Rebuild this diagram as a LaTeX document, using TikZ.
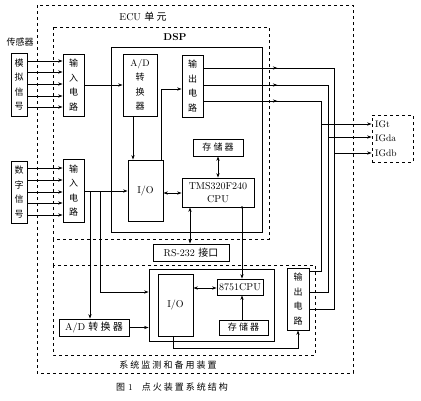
\documentclass[tikz,border=0pt]{standalone}
\usepackage{fontspec}
\newfontfamily\cjk{Noto Sans CJK SC}
\usetikzlibrary{arrows.meta,decorations.markings}
\begin{document}
\begin{tikzpicture}[x=1pt,y=-1pt,
  box/.style={draw, line width=0.8pt, inner sep=0pt, align=center},
  vtxt/.style={font=\cjk\fontsize{9}{14.5}\selectfont},
  ctxt/.style={font=\cjk\fontsize{9}{11}\selectfont},
  ln/.style={line width=0.7pt},
  arr/.style={ln, -{Stealth[length=4.5pt,width=3.2pt]}},
  darr/.style={ln, {Stealth[length=4.5pt,width=3.2pt]}-{Stealth[length=4.5pt,width=3.2pt]}},
  dbox/.style={line width=0.8pt, dash pattern=on 3pt off 3pt},
  midarr/.style={postaction={decorate}, decoration={markings, mark=at position #1 with {\arrow{Stealth[length=4.5pt,width=3.2pt]}}}}
]
\useasboundingbox (0,0) rectangle (421,400);
\fill[white] (0,0) rectangle (421,400);

% dashed containers
\draw[dbox] (37,5) rectangle (353,373);
\draw[dbox] (53,27) rectangle (269,239);
\draw[dbox] (53,265) rectangle (315,355);
\draw[dbox] (53,239) -- (53,265);
\node[font=\fontsize{10}{12}\selectfont] (ecu) at (143,17) {ECU \cjk 单 元};
\node[font=\bfseries\fontsize{10}{12}\selectfont] (dsp) at (175,37) {DSP};
\node[ctxt] (sens) at (20,42) {传感器};
\node[ctxt] (sys) at (168,365) {系 统 监 测 和 备 用 装 置};
\node[font=\fontsize{9}{11}\selectfont] (cap) at (172,387) {{\cjk 图} 1\quad{\cjk 点 火 装 置 系 统 结 构}};

% left column
\node[box, vtxt, minimum width=16pt, minimum height=63pt] (analog) at (19,84.5) {模\\拟\\信\\号};
\node[box, vtxt, minimum width=16pt, minimum height=62pt] (digital) at (19,192) {数\\字\\信\\号};
\node[box, vtxt, minimum width=21pt, minimum height=62pt] (in1) at (73.5,85) {输\\入\\电\\路};
\node[box, vtxt, minimum width=21pt, minimum height=63pt] (in2) at (73.5,190.5) {输\\入\\电\\路};

% DSP
\node[box, minimum width=151pt, minimum height=185pt] (dspbox) at (186.5,139.5) {};
\node[box, vtxt, minimum width=34pt, minimum height=62pt] (ad) at (140,85) {\fontsize{9.5}{14.5}\rmfamily A/D\\转\\换\\器};
\node[box, vtxt, minimum width=21pt, minimum height=62pt] (out1) at (192.5,86) {输\\出\\电\\路};
\node[box, minimum width=35pt, minimum height=61pt, font=\fontsize{10}{12}\selectfont] (io1) at (145.5,190.5) {I/O};
\node[box, ctxt, minimum width=50pt, minimum height=17pt] (mem1) at (218,147.5) {存 储 器};
\node[box, minimum width=72pt, minimum height=29pt, font=\fontsize{10}{13}\selectfont] (tms) at (218,192.5) {TMS320F240\\CPU};
\node[box, minimum width=76pt, minimum height=17pt, font=\fontsize{10}{12}\selectfont] (rs) at (191,252.5) {RS-232 {\cjk 接口}};

% monitoring
\node[box, minimum width=125pt, minimum height=72pt] (mon) at (211.5,305) {};
\node[box, minimum width=35pt, minimum height=62pt, font=\fontsize{10}{12}\selectfont] (io2) at (175.5,305) {I/O};
\node[box, minimum width=46pt, minimum height=16pt, font=\fontsize{10}{12}\selectfont] (cpu2) at (240,287) {8751CPU};
\node[box, ctxt, minimum width=49pt, minimum height=15pt] (mem2) at (243.5,327.5) {存 储 器};
\node[box, minimum width=70pt, minimum height=17pt, font=\fontsize{10}{12}\selectfont] (ad2) at (94,327.5) {A/D {\cjk 转 换 器}};
\node[box, vtxt, minimum width=22pt, minimum height=62pt] (out2) at (298,299) {输\\出\\电\\路};

% IG outputs
\node[draw, dbox, minimum width=41pt, minimum height=47pt] (ig) at (392.5,138.5) {};
\node[anchor=west, font=\fontsize{9.5}{11}\selectfont, inner sep=0pt] (igt) at (375,124) {IGt};
\node[anchor=west, font=\fontsize{9.5}{11}\selectfont, inner sep=0pt] (igda) at (375,138) {IGda};
\node[anchor=west, font=\fontsize{9.5}{11}\selectfont, inner sep=0pt] (igdb) at (375,153) {IGdb};

% sensor arrows
\foreach \y in {61,72,84,96,107} \draw[arr] (analog.east |- 0,\y) -- (in1.west |- 0,\y);
\foreach \y in {168,180,192,203,215} \draw[arr] (digital.east |- 0,\y) -- (in2.west |- 0,\y);

% DSP internal
\draw[arr] (in1.east |- 0,85) -- (ad.west |- 0,85);
\draw[arr] (ad.south -| 133,0) -- (io1.north -| 133,0);
\draw[arr] (io1.north -| 161,0) |- (out1.west |- 0,89);
\draw[arr] (in2.east |- 0,191) -- (io1.west |- 0,191);
\draw[darr] (io1.east |- 0,193) -- (tms.west |- 0,193);
\draw[darr] (mem1.south) -- (tms.north);
\draw[darr] (rs.north -| 190,0) -- (tms.south -| 190,0);
\coordinate (dot) at (tms.south -| 242,0);
\fill (dot) circle (1.3pt);
\draw[arr] (dot) -- (cpu2.north -| 242,0);

% branches to monitoring
\coordinate (b1) at (90,191);
\coordinate (b2) at (100,191);
\draw[arr] (b1) -- (ad2.north -| b1);
\draw[arr] (b2) |- (mon.west |- 0,292);
\draw[arr] (ad2.east) -- (mon.west |- ad2.east);
\draw[darr] (io2.east |- 0,288) -- (cpu2.west |- 0,288);
\draw[arr] (mem2.north -| 242,0) -- (cpu2.south -| 242,0);
\draw[arr] (io2.south -| 173,0) -- (173,348) -| (out2.south);

% output buses
\draw[ln, midarr=74pt] (out1.east |- 0,68) -- (334,68) -- (334,309) -- (out2.east |- 0,309);
\draw[ln, midarr=74pt] (out1.east |- 0,85) -- (328,85) -- (328,292) -- (out2.east |- 0,292);
\draw[ln, midarr=74pt] (out1.east |- 0,101) -- (321,101) -- (321,271) -- (out2.east |- 0,271);
\coordinate (t1) at (321,124);
\coordinate (t2) at (328,137);
\coordinate (t3) at (334,153);
\draw[arr] (t1) -- (ig.west |- t1);
\draw[arr] (t2) -- (ig.west |- t2);
\draw[arr] (t3) -- (ig.west |- t3);
\end{tikzpicture}
\end{document}
